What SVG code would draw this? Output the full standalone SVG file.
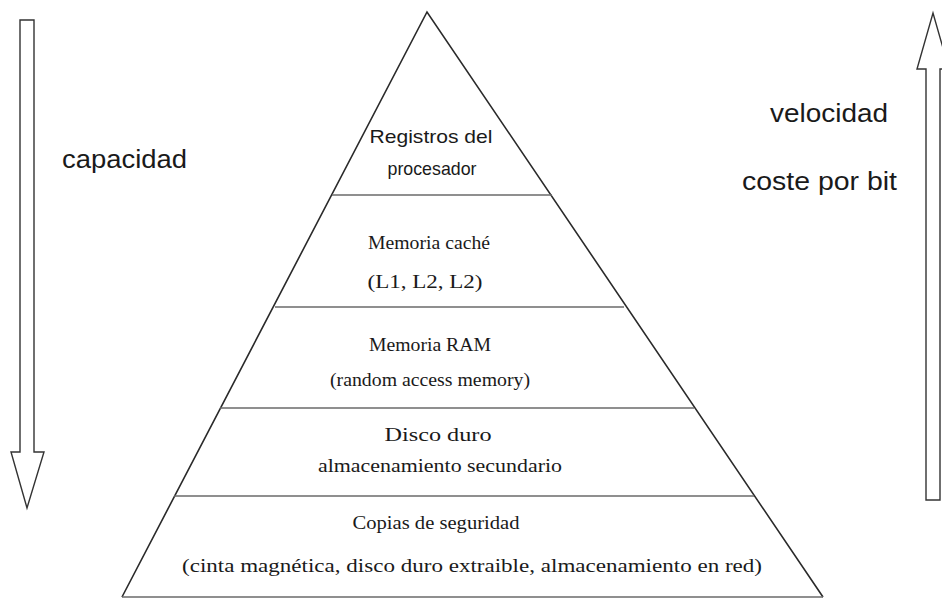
<svg xmlns="http://www.w3.org/2000/svg" width="942" height="599" viewBox="0 0 942 599">
<style>
  .edge { fill: none; stroke: #2a2a2a; stroke-width: 1.6; }
  .div { fill: none; stroke: #6a6a6a; stroke-width: 1.6; }
  .arrow { fill: #ffffff; stroke: #333333; stroke-width: 1.4; stroke-linejoin: miter; }
  .sans { font-family: "Liberation Sans", Arial, sans-serif; fill: #1a1a1a; }
  .serif { font-family: "Liberation Serif", "Times New Roman", serif; fill: #1a1a1a; font-size: 19px; text-anchor: middle; }
</style>
<rect x="0" y="0" width="942" height="599" fill="#ffffff"/>

<g id="arrow-capacidad">
  <polygon class="arrow" points="20,20 34,20 34,452 44,452 27,508 11,452 20,452"/>
  <text class="sans" x="62" y="168" font-size="25" textLength="125" lengthAdjust="spacingAndGlyphs">capacidad</text>
</g>

<g id="arrow-velocidad">
  <polygon class="arrow" points="926,500 926,69 917,69 933,13 949,69 940,69 940,500"/>
  <text class="sans" x="770" y="122" font-size="25" textLength="118" lengthAdjust="spacingAndGlyphs">velocidad</text>
  <text class="sans" x="742" y="190" font-size="25" textLength="155" lengthAdjust="spacingAndGlyphs">coste por bit</text>
</g>

<g id="pyramid">
  <polyline class="edge" points="122,597 427,12 823,597"/>
  <line class="div" x1="122" y1="597" x2="823" y2="597"/>
</g>

<g id="connectors">
  <line class="div" x1="332" y1="195" x2="552" y2="195"/>
  <line class="div" x1="275" y1="307" x2="624" y2="307"/>
  <line class="div" x1="220" y1="408" x2="694" y2="408"/>
  <line class="div" x1="174" y1="496" x2="754" y2="496"/>
</g>

<g id="registros">
  <text class="sans" x="431" y="143" font-size="19" text-anchor="middle" textLength="123" lengthAdjust="spacingAndGlyphs">Registros del</text>
  <text class="sans" x="432" y="175" font-size="19" text-anchor="middle" textLength="89" lengthAdjust="spacingAndGlyphs">procesador</text>
</g>

<g id="cache">
  <text class="serif" x="429" y="249" textLength="122" lengthAdjust="spacingAndGlyphs">Memoria caché</text>
  <text class="serif" x="425" y="288" textLength="115" lengthAdjust="spacingAndGlyphs">(L1, L2, L2)</text>
</g>

<g id="ram">
  <text class="serif" x="430" y="351" textLength="122" lengthAdjust="spacingAndGlyphs">Memoria RAM</text>
  <text class="serif" x="430" y="386" textLength="200" lengthAdjust="spacingAndGlyphs">(random access memory)</text>
</g>

<g id="disco">
  <text class="serif" x="438" y="441" textLength="107" lengthAdjust="spacingAndGlyphs">Disco duro</text>
  <text class="serif" x="440" y="472" textLength="244" lengthAdjust="spacingAndGlyphs">almacenamiento secundario</text>
</g>

<g id="copias">
  <text class="serif" x="436" y="529" textLength="167" lengthAdjust="spacingAndGlyphs">Copias de seguridad</text>
  <text class="serif" x="472" y="572" textLength="580" lengthAdjust="spacingAndGlyphs">(cinta magnética, disco duro extraible, almacenamiento en red)</text>
</g>
</svg>
